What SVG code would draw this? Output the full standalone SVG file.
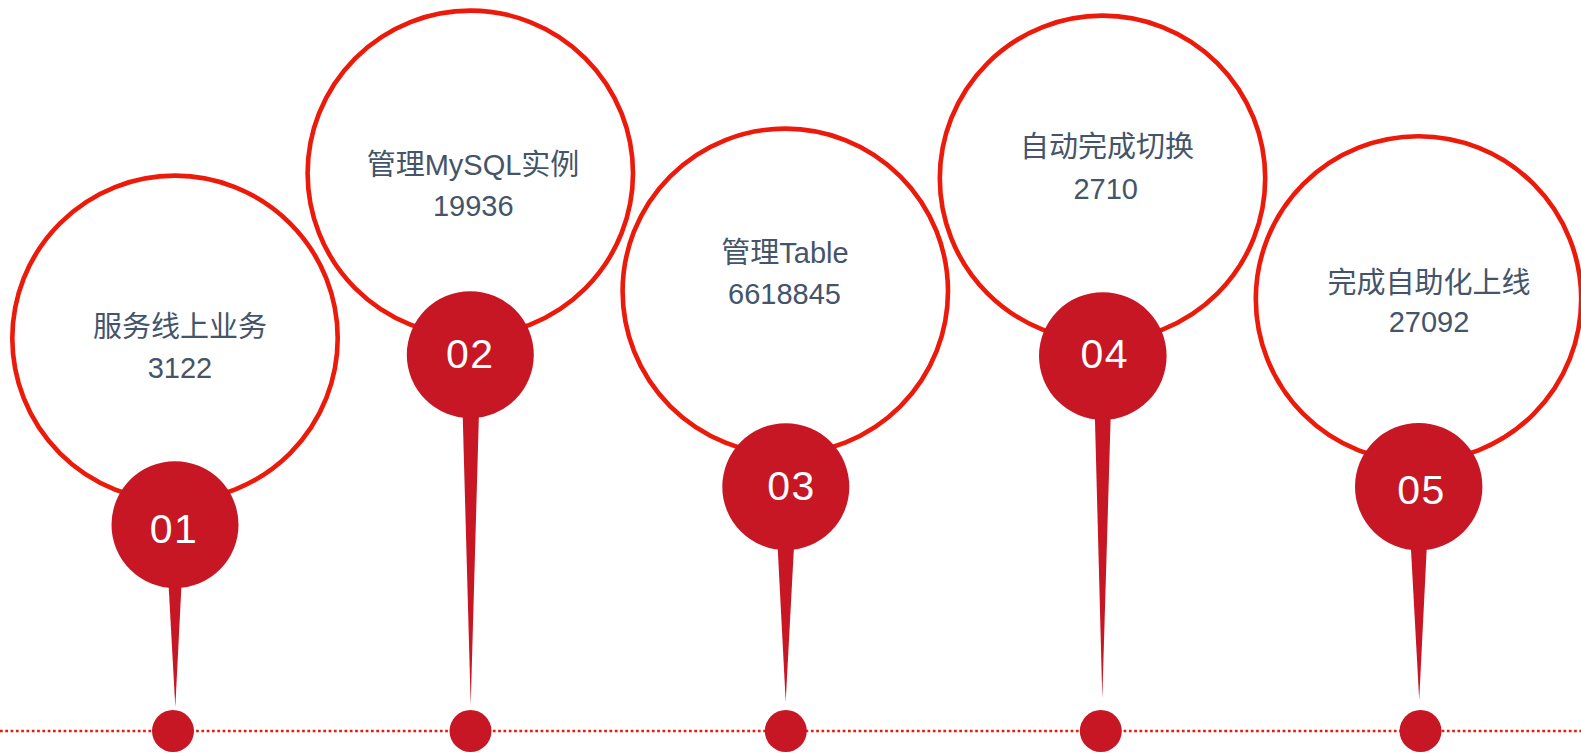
<svg xmlns="http://www.w3.org/2000/svg" width="1581" height="753" viewBox="0 0 1581 753">
<style>
.ring{fill:#fff;stroke:#EC1A0A;stroke-width:4.6}
.num{fill:#C71624}
.pin{fill:#C71624}
.dot{fill:#C71624}
.lbl{font-family:"Liberation Sans","Noto Sans CJK SC",sans-serif;font-size:29px;fill:#44546A;text-anchor:middle}
.no{font-family:"Liberation Sans","Noto Sans CJK SC",sans-serif;font-size:41px;fill:#fff;text-anchor:middle;letter-spacing:1.5px}
.base{stroke:#EC1A0A;stroke-width:2.7;stroke-dasharray:2.7 2.6;fill:none}
</style>
<rect width="1581" height="753" fill="#fff"/>
<g id="connectors">
<line class="base" x1="0" y1="731" x2="1581" y2="731"/>
</g>
<g id="node-1">
<circle class="ring" cx="175" cy="338.3" r="162.7"/>
<text class="lbl" x="180" y="337">服务线上业务</text>
<text class="lbl" x="180" y="378.3">3122</text>
<path class="pin" d="M168,574.7 L182,574.7 L175.3,707 Z"/>
<circle class="num" cx="175" cy="524.7" r="63.5"/>
<text class="no" x="174" y="543.3">01</text>
<circle class="dot" cx="173" cy="731" r="21"/>
</g>
<g id="node-2">
<circle class="ring" cx="470.3" cy="173.3" r="162.7"/>
<text class="lbl" x="473" y="174.5">管理MySQL实例</text>
<text class="lbl" x="473.3" y="216">19936</text>
<path class="pin" d="M462.4,404.7 L479.2,404.7 L470.7,705 Z"/>
<circle class="num" cx="470.3" cy="354.7" r="63.5"/>
<text class="no" x="470.3" y="368.3">02</text>
<circle class="dot" cx="470.5" cy="731" r="21"/>
</g>
<g id="node-3">
<circle class="ring" cx="785.3" cy="291.3" r="162.7"/>
<text class="lbl" x="785" y="263.3">管理Table</text>
<text class="lbl" x="784.5" y="304.3">6618845</text>
<path class="pin" d="M777.1,536.7 L794.5,536.7 L785.7,701.7 Z"/>
<circle class="num" cx="785.8" cy="486.7" r="63.5"/>
<text class="no" x="791.5" y="500">03</text>
<circle class="dot" cx="785.8" cy="731" r="21"/>
</g>
<g id="node-4">
<circle class="ring" cx="1102.5" cy="178.3" r="162.7"/>
<text class="lbl" x="1107" y="157">自动完成切换</text>
<text class="lbl" x="1105.7" y="199">2710</text>
<path class="pin" d="M1094.6,406 L1111,406 L1102.3,698.3 Z"/>
<circle class="num" cx="1102.8" cy="356" r="63.8"/>
<text class="no" x="1104.8" y="368.3">04</text>
<circle class="dot" cx="1100.8" cy="731" r="21"/>
</g>
<g id="node-5">
<circle class="ring" cx="1418.5" cy="299" r="162.7"/>
<text class="lbl" x="1429" y="292.7">完成自助化上线</text>
<text class="lbl" x="1429" y="332.3">27092</text>
<path class="pin" d="M1410.3,536.7 L1427.3,536.7 L1419.2,700 Z"/>
<circle class="num" cx="1418.7" cy="486.7" r="63.7"/>
<text class="no" x="1421.5" y="504">05</text>
<circle class="dot" cx="1420.5" cy="731" r="21"/>
</g>
</svg>
